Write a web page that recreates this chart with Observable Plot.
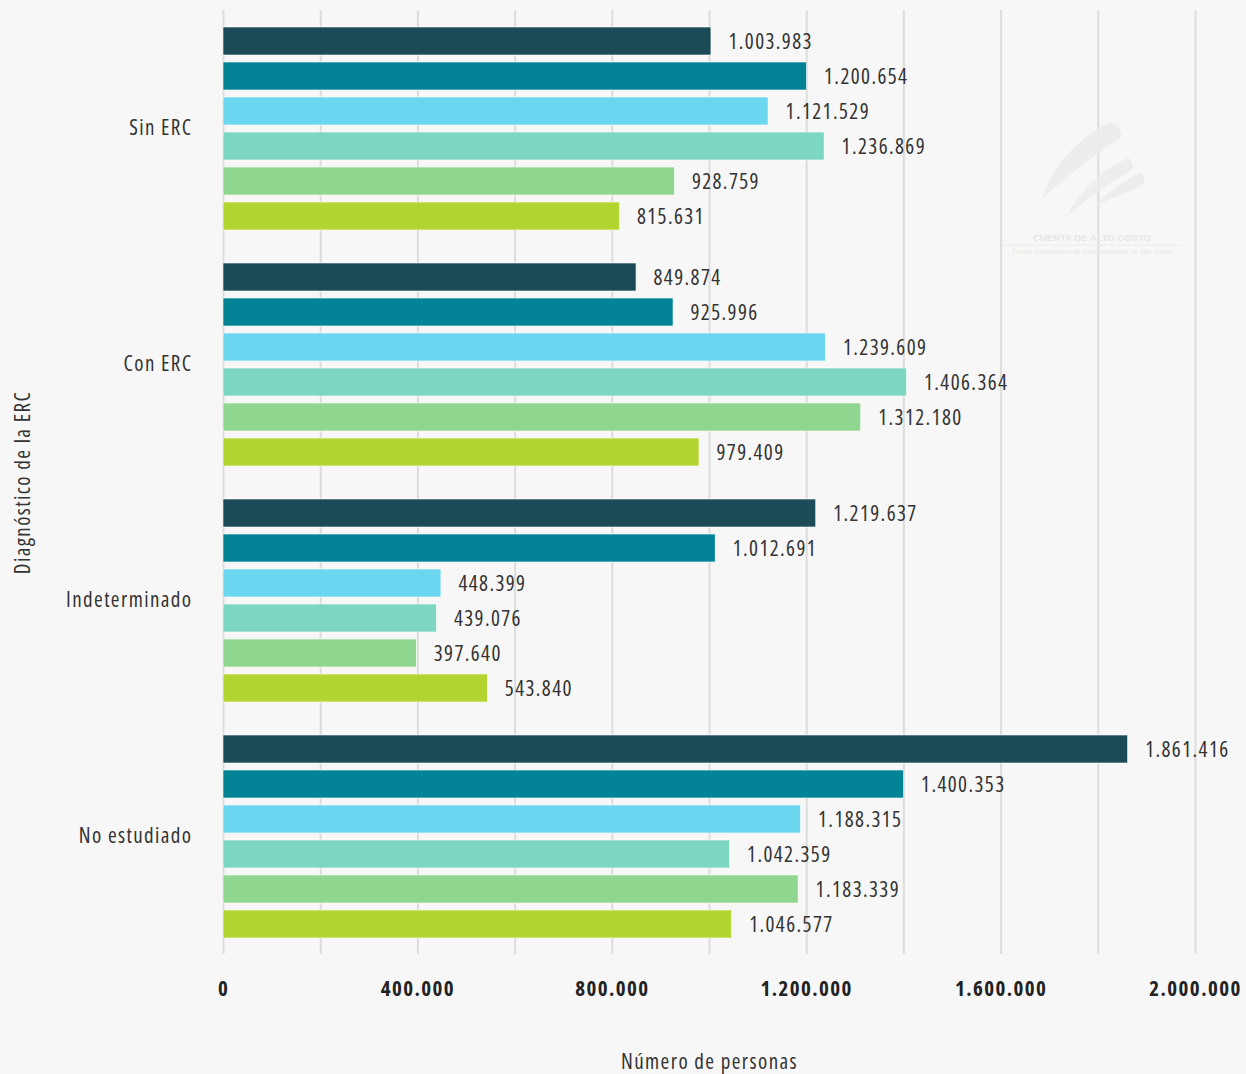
<!DOCTYPE html>
<html>
<head>
<meta charset="utf-8">
<script src="https://cdn.jsdelivr.net/npm/d3@7"></script>
<script src="https://cdn.jsdelivr.net/npm/@observablehq/plot@0.6"></script>
<style>
  html, body { margin: 0; padding: 0; background: #f7f7f7; }
  #wrap { position: relative; width: 1246px; height: 1074px; overflow: hidden; }
  #wm { position: absolute; left: 0; top: 0; pointer-events: none; }
  #chart svg text { font-stretch: 75%; letter-spacing: 1.4px; }
</style>
</head>
<body>
<div id="wrap">
  <div id="chart"></div>
  <svg id="wm" width="1246" height="1074">
    <g fill="#ececec" opacity="0.9">
      <path d="M1043,198 C1050,170 1075,140 1110,122 L1118,126 C1122,132 1122,138 1118,140 C1090,158 1065,178 1043,198 Z"/>
      <path d="M1068,215 C1080,190 1105,168 1128,158 C1132,160 1134,166 1132,170 C1110,182 1088,198 1068,215 Z"/>
      <path d="M1095,206 C1108,192 1125,180 1140,172 C1145,174 1145,182 1142,186 C1128,192 1112,198 1095,206 Z"/>
    </g>
    <text x="1092" y="241" text-anchor="middle" font-family="Liberation Sans, sans-serif" font-weight="bold" font-size="9.5" fill="#e6e6e6">CUENTA DE ALTO COSTO</text>
    <line x1="1003" x2="1182" y1="245" y2="245" stroke="#ececec" stroke-width="1"/>
    <text x="1092" y="254" text-anchor="middle" font-family="Liberation Sans, sans-serif" font-size="7" fill="#e8e8e8">Fondo Colombiano de Enfermedades de Alto Costo</text>
  </svg>
</div>
<script>
// ---- Data ----
const categories = ["Sin ERC", "Con ERC", "Indeterminado", "No estudiado"];
const seriesNames = ["Serie 1", "Serie 2", "Serie 3", "Serie 4", "Serie 5", "Serie 6"];
const seriesColors = ["#1b4b56", "#028496", "#6ad6f0", "#7dd6c0", "#8fd68f", "#b2d530"];
const sinERC        = [1003983, 1200654, 1121529, 1236869, 928759, 815631];
const conERC        = [849874, 925996, 1239609, 1406364, 1312180, 979409];
const indeterminado = [1219637, 1012691, 448399, 439076, 397640, 543840];
const noEstudiado   = [1861416, 1400353, 1188315, 1042359, 1183339, 1046577];
const xTicks = [0, 400000, 800000, 1200000, 1600000, 2000000];
const gridTicks = [0, 200000, 400000, 600000, 800000, 1000000, 1200000, 1400000, 1600000, 1800000, 2000000];

const valuesByCategory = [sinERC, conERC, indeterminado, noEstudiado];
const data = [];
categories.forEach((c, i) => {
  seriesNames.forEach((s, j) => {
    data.push({category: c, series: s, value: valuesByCategory[i][j]});
  });
});

const locale = d3.formatLocale({decimal: ",", thousands: ".", grouping: [3], currency: ["$", ""]});
const fmt = locale.format(",d");

const font = "'Open Sans', 'DejaVu Sans Condensed', sans-serif";

const chart = Plot.plot({
  width: 1246,
  height: 1074,
  marginLeft: 223,
  marginRight: 51,
  marginTop: 10,
  marginBottom: 120,
  style: {background: "#f7f7f7", fontFamily: font, color: "#333"},
  x: {domain: [0, 2000000]},
  y: {domain: seriesNames, paddingInner: 0.2, paddingOuter: 0.45, axis: null},
  fy: {domain: categories, padding: 0},
  color: {domain: seriesNames, range: seriesColors},
  marks: [
    Plot.gridX(gridTicks, {stroke: "#dcdcdc", strokeOpacity: 1, strokeWidth: 2}),
    Plot.barX(data, {x: "value", y: "series", fy: "category", fill: "series", stroke: "#ffffff", strokeWidth: 0.6}),
    Plot.text(data, {x: "value", y: "series", fy: "category", text: d => fmt(d.value), dx: 17, dy: 1, textAnchor: "start", fontSize: 21, fill: "#333"}),
    Plot.axisX(xTicks, {tickSize: 0, tickPadding: 27, fontSize: 21, fontWeight: "bold", fill: "#222", tickFormat: d => fmt(d), label: null}),
    Plot.axisX([], {tickSize: 0, fontSize: 21, fill: "#333",
      label: "Número de personas", labelAnchor: "center", labelArrow: "none", labelOffset: 114}),
    Plot.axisFy({anchor: "left", tickSize: 0, tickPadding: 31, fontSize: 21, fill: "#333",
      label: "Diagnóstico de la ERC", labelAnchor: "center", labelArrow: "none", labelOffset: 208})
  ]
});
document.getElementById("chart").appendChild(chart);
</script>
</body>
</html>
